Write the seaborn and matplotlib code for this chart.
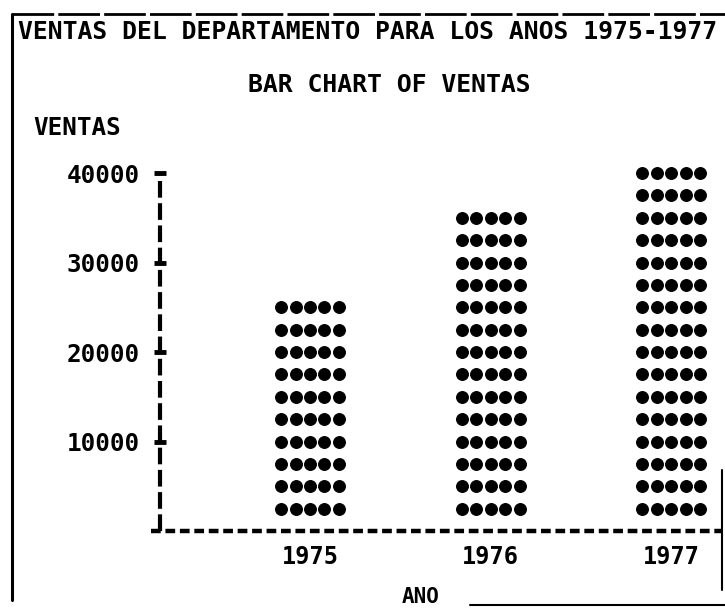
import matplotlib
matplotlib.use("Agg")
import matplotlib.pyplot as plt
import matplotlib.lines as mlines
import seaborn as sns
import pandas as pd

anos = ["1975", "1976", "1977"]
ventas = [25000, 35000, 40000]
y_ticks = [10000, 20000, 30000, 40000]
unidad = 2500          # valor de cada fila de asteriscos
columnas = [-2, -1, 0, 1, 2]

titulo = "VENTAS DEL DEPARTAMENTO PARA LOS ANOS 1975-1977"
subtitulo = "BAR CHART OF VENTAS"
y_label = "VENTAS"
x_label = "ANO"

sns.set_theme(style="white")
plt.rcParams["font.family"] = ["DejaVu Sans Mono", "DejaVu Sans"]
plt.rcParams["font.weight"] = "bold"
plt.rcParams["lines.scale_dashes"] = False

# una marca por cada asterisco impreso
filas = []
for i, v in enumerate(ventas):
    for k in range(1, int(v // unidad) + 1):
        for c in columnas:
            filas.append({"x": i + c * 0.08, "y": k * unidad, "ano": anos[i]})
marcas = pd.DataFrame(filas)

W, H = 725, 611
fig = plt.figure(figsize=(W / 100, H / 100), dpi=100)
ax = fig.add_axes([160 / W, (H - 531) / H, 562 / W, 371.4 / H])

sns.scatterplot(data=marcas, x="x", y="y", ax=ax, color="black",
                marker="o", s=72, edgecolor="black", linewidth=0.8, legend=False)

ax.set_xlim(-0.83, 2.28)
ax.set_ylim(0, 41500)
ax.set_xticks(range(len(anos)))
ax.set_xticklabels(anos)
ax.set_yticks(y_ticks)
ax.set_yticklabels([str(t) for t in y_ticks])
ax.set_xlabel("")
ax.set_ylabel("")

ax.tick_params(axis="x", bottom=False, length=0, pad=10, labelsize=17)
ax.tick_params(axis="y", left=True, direction="inout", length=9, width=3.5,
               color="black", pad=10, labelsize=17.5)
for lab in ax.get_xticklabels() + ax.get_yticklabels():
    lab.set_fontweight("bold")
    lab.set_color("black")

for s in ["top", "right"]:
    ax.spines[s].set_visible(False)
ax.spines["left"].set_bounds(0, 40000)
ax.spines["left"].set_linewidth(3)
ax.spines["left"].set_linestyle((0, (12, 4)))
ax.spines["left"].set_capstyle("butt")
ax.spines["left"].set_color("black")
ax.spines["bottom"].set_linewidth(3.2)
ax.spines["bottom"].set_linestyle((0, (7, 3.4)))
ax.spines["bottom"].set_capstyle("butt")
ax.spines["bottom"].set_color("black")
ax.spines["bottom"].set_bounds(-0.88, 2.28)

def fx(px):
    return px / W

def fy(py):
    return 1 - py / H

fig.text(fx(18), fy(32), titulo, ha="left", va="center", fontsize=17.8,
         fontweight="bold", color="black")
fig.text(fx(248), fy(85), subtitulo, ha="left", va="center", fontsize=17.8,
         fontweight="bold", color="black")
fig.text(fx(33), fy(128), y_label, ha="left", va="center", fontsize=17.5,
         fontweight="bold", color="black")
fig.text(fx(421), fy(597), x_label, ha="center", va="center", fontsize=15,
         fontweight="bold", color="black")

# borde de la hoja impresa
fig.add_artist(mlines.Line2D([fx(12), fx(725)], [fy(14), fy(14)], color="black",
                             lw=2, linestyle=(0, (30, 3))))
fig.add_artist(mlines.Line2D([fx(12), fx(12)], [fy(14), fy(600)], color="black", lw=2.2))
fig.add_artist(mlines.Line2D([fx(722), fx(722)], [fy(470), fy(590)], color="black", lw=1.5))
fig.add_artist(mlines.Line2D([fx(470), fx(725)], [fy(605), fy(605)], color="black", lw=1.5))

fig.savefig("out.png", dpi=100, facecolor="white")
plt.close(fig)
